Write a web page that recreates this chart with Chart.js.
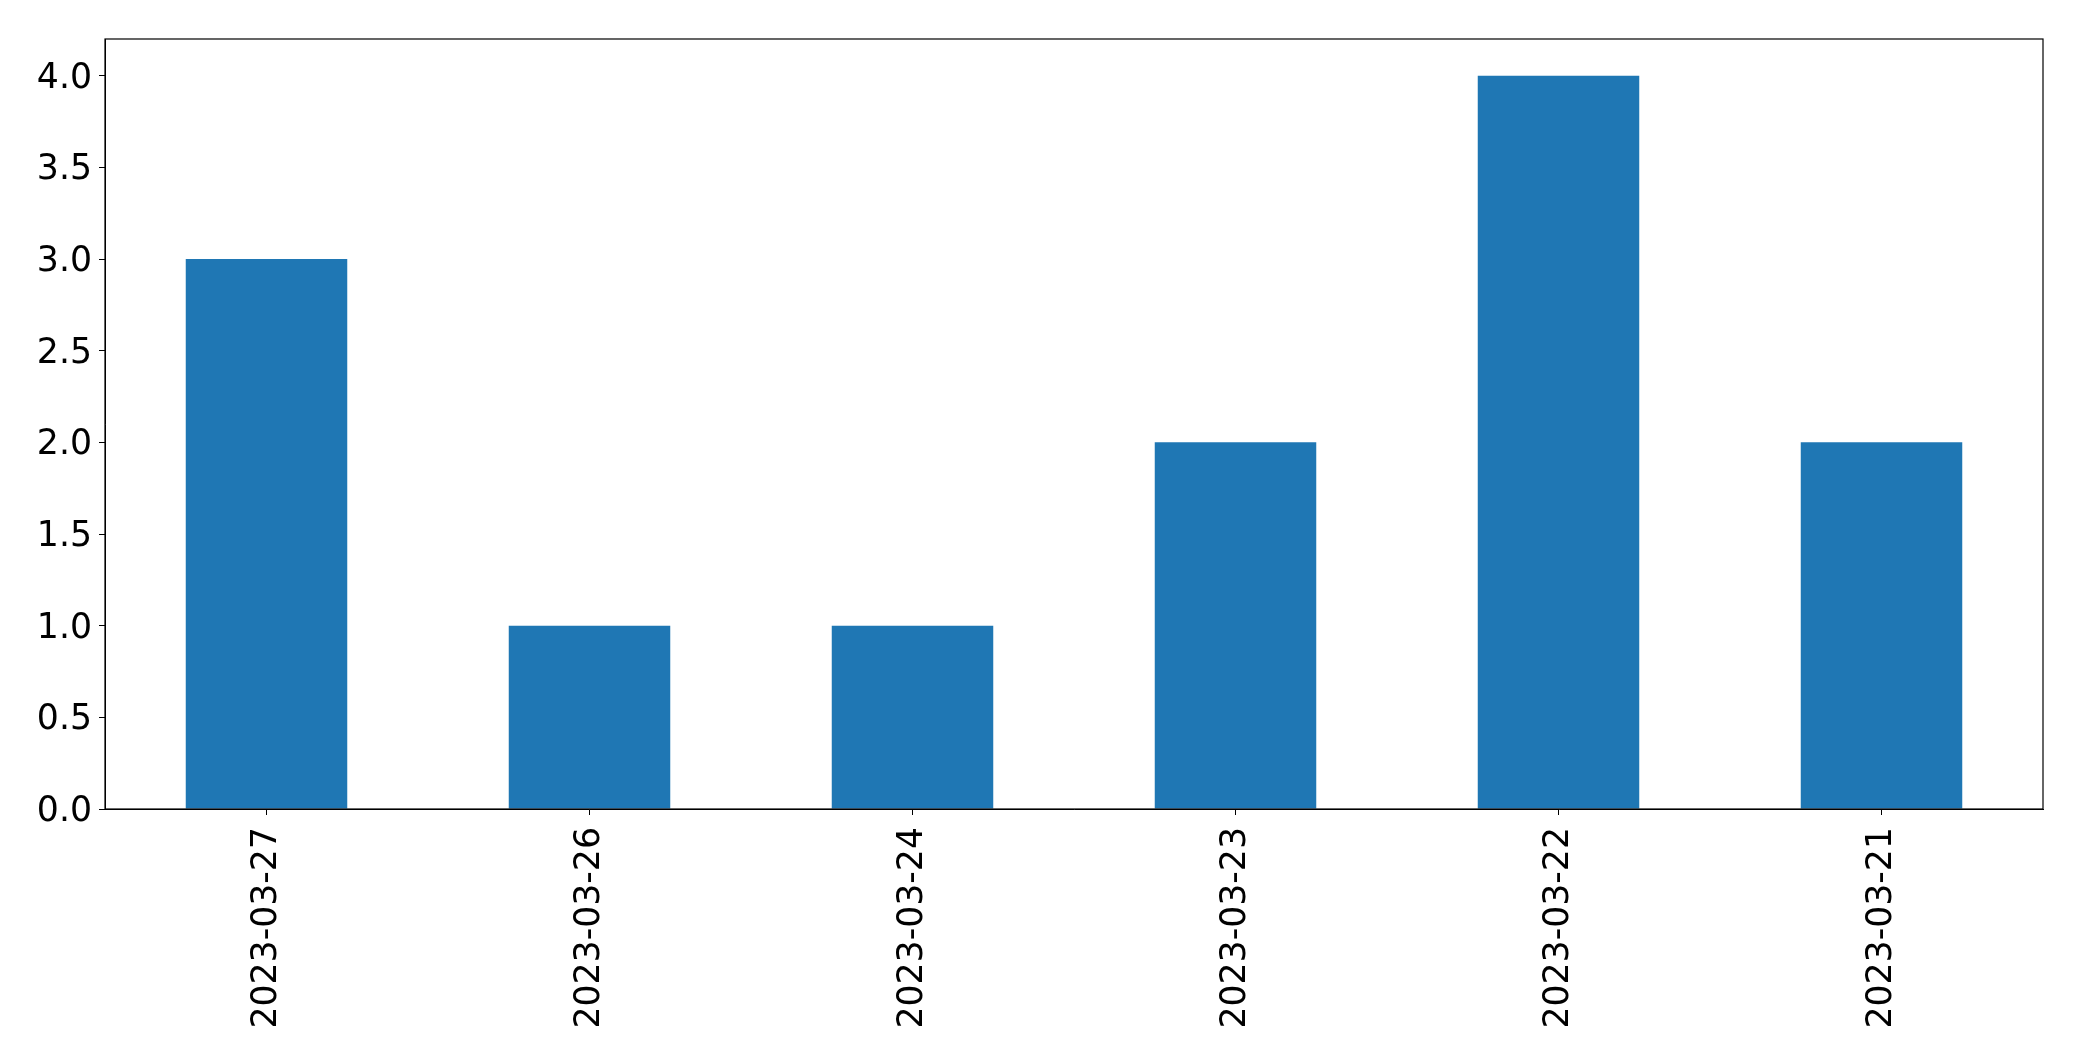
<!DOCTYPE html>
<html>
<head>
<meta charset="utf-8">
<script src="https://cdn.jsdelivr.net/npm/chart.js@4/dist/chart.umd.min.js"></script>
<style>
  html, body { margin: 0; padding: 0; background: #ffffff; }
  #wrap { width: 2082px; height: 1061px; }
</style>
</head>
<body>
<div id="wrap"><canvas id="c" width="2082" height="1061"></canvas></div>
<script>
const categories = ["2023-03-27", "2023-03-26", "2023-03-24", "2023-03-23", "2023-03-22", "2023-03-21"];
const counts = [3, 1, 1, 2, 4, 2];
const yTickValues = [0, 0.5, 1, 1.5, 2, 2.5, 3, 3.5, 4];
const yMax = 4.2;

const FONT = { family: "'DejaVu Sans', sans-serif", size: 34.7 };

const framePlugin = {
  id: 'frame',
  afterDraw(chart) {
    const a = chart.chartArea;
    const ctx = chart.ctx;
    ctx.save();
    ctx.strokeStyle = '#000000';
    ctx.lineWidth = 1.2;
    ctx.strokeRect(a.left, a.top, a.right - a.left, a.bottom - a.top);
    ctx.restore();
  }
};

new Chart(document.getElementById('c'), {
  type: 'bar',
  data: {
    labels: categories,
    datasets: [{
      data: counts,
      backgroundColor: '#1f77b4',
      borderWidth: 0,
      categoryPercentage: 1.0,
      barPercentage: 0.5
    }]
  },
  options: {
    responsive: false,
    devicePixelRatio: 1,
    animation: false,
    layout: { padding: { top: 39, right: 39, left: 0, bottom: 0 } },
    plugins: {
      legend: { display: false },
      tooltip: { enabled: false }
    },
    scales: {
      x: {
        type: 'category',
        offset: true,
        grid: {
          offset: false,
          drawOnChartArea: false,
          drawTicks: true,
          tickLength: 6,
          color: '#000000',
          lineWidth: 1
        },
        border: { display: true, color: '#000000', width: 1 },
        ticks: {
          color: '#000000',
          font: FONT,
          minRotation: 90,
          maxRotation: 90,
          padding: 12,
          autoSkip: false
        },
        afterFit(scale) { scale.height = 252; }
      },
      y: {
        min: 0,
        max: yMax,
        grid: {
          drawOnChartArea: false,
          drawTicks: true,
          tickLength: 6,
          color: '#000000',
          lineWidth: 1
        },
        border: { display: true, color: '#000000', width: 1 },
        afterBuildTicks(scale) {
          scale.ticks = yTickValues.map(v => ({ value: v }));
        },
        ticks: {
          color: '#000000',
          font: FONT,
          padding: 7,
          labelOffset: 3,
          callback: (v) => Number(v).toFixed(1)
        },
        afterFit(scale) { scale.width = 105; }
      }
    }
  },
  plugins: [framePlugin]
});
</script>
</body>
</html>
